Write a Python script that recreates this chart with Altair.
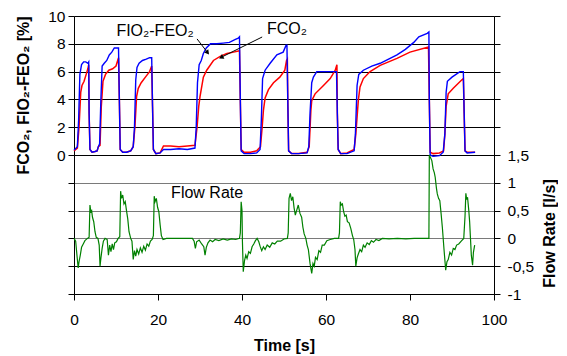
import altair as alt
import pandas as pd

FONT = "Liberation Sans"

# ---- FIO2-FEO2 (blue), time [s] and value [%]
fio2_time = [0.0, 0.8, 1.1, 1.4, 1.8, 2.3, 2.8, 3.3, 3.5, 3.6, 3.8, 4.3, 5.0, 5.5, 5.8, 6.1, 6.4, 6.7, 7.2, 7.8,
             8.4, 9.0, 9.6, 10.6, 10.8, 11.0, 11.6, 12.5, 13.5, 14.1, 14.4, 14.7, 15.0, 15.5, 16.3, 17.2, 18.0, 18.5, 18.7, 18.9,
             19.5, 20.5, 21.3, 23.0, 25.0, 27.0, 28.8, 29.1, 29.4, 29.8, 30.3, 30.8, 31.5, 32.5, 34.0, 35.5, 37.0, 38.3, 39.1, 39.4,
             39.6, 39.8, 40.5, 42.0, 43.5, 44.3, 44.6, 44.9, 45.5, 46.7, 48.3, 49.8, 50.5, 50.7, 50.9, 51.1, 51.8, 53.5, 55.5, 55.9,
             56.2, 56.6, 57.0, 57.8, 59.5, 61.0, 62.5, 62.7, 62.9, 63.5, 65.0, 66.7, 67.0, 67.4, 67.8, 68.9, 70.9, 72.9, 74.9, 76.9,
             78.9, 80.9, 82.1, 84.1, 84.5, 84.6, 84.8, 85.5, 87.0, 87.9, 88.3, 88.6, 88.9, 90.0, 91.9, 92.7, 92.9, 93.1, 93.6, 95.5]
fio2_value = [0.35, 0.6, 2.5, 5.8, 6.5, 6.7, 6.7, 6.6, 6.7, 3.0, 0.4, 0.2, 0.25, 0.3, 0.6, 0.8, 4.0, 6.4, 6.6, 6.8,
              7.2, 7.4, 7.7, 7.7, 4.0, 0.4, 0.2, 0.2, 0.3, 0.6, 2.0, 5.4, 6.3, 6.6, 6.8, 6.9, 7.0, 7.0, 3.5, 0.4,
              0.1, 0.15, 0.4, 0.4, 0.45, 0.4, 0.5, 2.0, 5.2, 6.5, 6.8, 7.3, 7.7, 8.0, 8.0, 8.05, 8.1, 8.3, 8.4, 8.5,
              4.0, 0.3, 0.1, 0.1, 0.15, 0.4, 2.5, 5.5, 6.1, 6.6, 7.2, 7.4, 7.9, 7.9, 4.0, 0.3, 0.1, 0.1, 0.15, 0.6,
              3.0, 5.2, 5.6, 6.0, 6.0, 6.0, 6.0, 3.0, 0.4, 0.1, 0.1, 0.3, 1.5, 5.0, 5.8, 6.1, 6.4, 6.6, 6.9, 7.2,
              7.6, 8.1, 8.5, 8.75, 8.85, 4.0, 0.0, -0.1, -0.05, 0.2, 1.5, 4.5, 5.3, 5.6, 6.0, 6.0, 3.0, 0.3, 0.15, 0.2]

# ---- FCO2 (red)
fco2_time = [0.0, 0.8, 1.2, 1.6, 1.9, 2.4, 2.9, 3.3, 3.5, 3.6, 3.8, 4.3, 5.0, 5.5, 5.8, 6.2, 6.5, 6.9, 7.5, 8.3,
             9.2, 10.0, 10.6, 10.8, 11.0, 11.6, 12.5, 13.5, 14.1, 14.5, 14.9, 15.3, 16.0, 17.0, 18.0, 18.5, 18.7, 18.9, 19.5, 20.5,
             21.3, 23.0, 25.0, 27.0, 28.8, 29.3, 29.7, 30.0, 30.8, 31.6, 33.2, 34.8, 36.4, 38.0, 39.4, 39.6, 39.8, 40.5, 42.0, 43.5,
             44.4, 44.8, 45.1, 45.5, 46.3, 47.5, 49.0, 50.2, 50.6, 50.8, 50.9, 51.1, 51.8, 53.5, 55.5, 56.0, 56.4, 56.6, 57.4, 59.4,
             61.0, 62.2, 62.6, 62.7, 62.9, 63.5, 65.0, 66.7, 67.1, 67.7, 68.1, 68.9, 70.5, 72.9, 76.9, 80.0, 84.4, 84.6, 84.8, 85.5,
             87.0, 88.0, 88.3, 88.6, 89.1, 90.3, 92.3, 92.7, 92.9, 93.1, 93.6, 95.5]
fco2_value = [0.3, 0.5, 2.0, 4.5, 5.0, 5.3, 5.8, 6.2, 6.5, 3.0, 0.4, 0.2, 0.25, 0.3, 0.6, 0.7, 3.5, 5.3, 5.8, 6.1,
              6.2, 6.4, 7.0, 4.0, 0.4, 0.2, 0.2, 0.3, 0.6, 2.0, 4.2, 4.8, 5.2, 5.6, 6.0, 6.4, 3.5, 0.4, 0.1, 0.15,
              0.65, 0.65, 0.6, 0.65, 0.7, 2.0, 3.5, 4.2, 5.6, 6.1, 6.8, 7.1, 7.3, 7.4, 7.5, 4.0, 0.4, 0.2, 0.2, 0.3,
              0.6, 2.0, 3.2, 4.1, 4.7, 5.2, 5.6, 6.1, 6.8, 6.9, 4.0, 0.3, 0.1, 0.1, 0.2, 0.6, 3.2, 3.9, 4.4, 5.0,
              5.5, 6.1, 6.5, 3.0, 0.4, 0.1, 0.15, 0.4, 1.5, 3.95, 4.9, 5.5, 6.0, 6.45, 6.95, 7.4, 7.77, 4.0, 0.2, 0.1,
              0.15, 0.3, 1.5, 3.5, 4.4, 4.8, 5.4, 5.5, 3.0, 0.3, 0.2, 0.2]

# ---- Flow rate (green), l/s
flow_time = [0.0, 0.4, 0.7, 1.0, 1.2, 1.5, 1.8, 2.2, 2.6, 3.2, 3.6, 3.8, 4.0, 4.2, 4.4, 4.7, 5.0, 5.3, 5.7, 6.0,
             6.2, 6.4, 6.7, 7.0, 7.4, 7.9, 8.2, 8.5, 8.8, 9.1, 9.4, 9.7, 10.1, 10.5, 10.9, 11.1, 11.3, 11.6, 11.9, 12.2,
             12.5, 12.8, 13.1, 13.5, 13.8, 14.1, 14.4, 14.7, 15.0, 15.4, 15.8, 16.2, 16.6, 17.0, 17.4, 17.8, 18.2, 18.6, 18.9, 19.1,
             19.3, 19.6, 19.9, 20.2, 20.5, 20.8, 21.2, 22.0, 24.0, 26.0, 28.2, 28.6, 28.9, 29.2, 29.8, 30.4, 30.9, 31.2, 31.5, 31.9,
             32.4, 33.0, 33.6, 34.5, 35.5, 36.5, 37.5, 38.5, 39.4, 39.6, 39.8, 40.0, 40.1, 40.3, 40.6, 40.9, 41.2, 41.6, 42.0, 42.4,
             42.8, 43.2, 43.6, 44.0, 44.3, 44.7, 45.1, 45.5, 46.0, 46.6, 47.2, 47.8, 48.4, 49.2, 50.0, 50.8, 51.0, 51.2, 51.5, 51.8,
             52.1, 52.4, 52.7, 53.0, 53.4, 53.8, 54.2, 54.5, 54.8, 55.2, 55.5, 55.8, 56.2, 56.6, 56.9, 57.2, 57.5, 57.9, 58.3, 58.7,
             59.1, 59.6, 60.2, 61.0, 62.0, 63.0, 63.2, 63.4, 63.6, 63.9, 64.2, 64.5, 64.8, 65.1, 65.5, 65.9, 66.3, 66.6, 66.9, 67.1,
             67.4, 67.7, 68.1, 68.5, 68.9, 69.3, 69.8, 70.3, 70.8, 71.3, 71.9, 72.6, 73.4, 75.0, 77.0, 79.0, 81.0, 83.0, 84.5, 84.6,
             84.9, 85.2, 85.5, 85.8, 86.0, 86.3, 86.5, 86.8, 87.1, 87.4, 87.7, 88.1, 88.5, 88.8, 89.1, 89.5, 89.9, 90.3, 90.7, 91.1,
             91.6, 92.2, 92.8, 93.1, 93.3, 93.5, 93.7, 94.0, 94.2, 94.4, 94.6, 94.9, 95.1, 95.4]
flow_value = [0.0, -0.05, -0.3, -0.53, -0.42, -0.3, -0.16, -0.1, -0.04, 0.0, 0.02, 0.6, 0.48, 0.5, 0.38, 0.3, 0.12, 0.02, 0.0, -0.12,
              -0.5, -0.36, -0.18, -0.05, 0.0, -0.02, -0.3, -0.12, -0.24, -0.1, -0.2, -0.08, -0.06, 0.0, 0.03, 0.85, 0.72, 0.78, 0.62, 0.66,
              0.5, 0.35, 0.12, 0.0, -0.05, -0.38, -0.22, -0.32, -0.2, -0.28, -0.17, -0.25, -0.14, -0.21, -0.1, -0.14, -0.05, -0.02, 0.05, 0.76,
              0.66, 0.72, 0.56, 0.48, 0.25, 0.05, -0.02, 0.0, 0.0, 0.0, 0.0, -0.05, -0.18, -0.06, -0.03, -0.1, -0.15, -0.3, -0.16, -0.08,
              -0.03, -0.06, -0.02, -0.04, -0.01, -0.03, -0.01, -0.02, 0.0, 0.1, 0.66, 0.5, -0.05, -0.6, -0.4, -0.3, -0.36, -0.24, -0.27, -0.15,
              -0.1, -0.04, 0.0, -0.06, -0.14, -0.22, -0.15, -0.2, -0.12, -0.16, -0.08, -0.1, -0.05, -0.05, -0.01, 0.0, 0.1, 0.72, 0.81, 0.68,
              0.75, 0.55, 0.42, 0.5, 0.6, 0.45, 0.38, 0.2, 0.08, 0.0, -0.12, -0.2, -0.45, -0.63, -0.45, -0.5, -0.34, -0.38, -0.22, -0.25,
              -0.12, -0.12, -0.04, -0.02, 0.0, 0.0, 0.1, 0.66, 0.6, 0.62, 0.48, 0.4, 0.42, 0.3, 0.28, 0.18, 0.05, -0.02, -0.2, -0.5,
              -0.35, -0.28, -0.2, -0.24, -0.12, -0.16, -0.08, -0.11, -0.04, -0.07, -0.02, -0.04, 0.0, -0.01, 0.0, -0.01, 0.0, 0.0, 0.0, 1.5,
              1.45, 1.4, 1.25, 1.18, 1.1, 0.9, 0.8, 0.72, 0.68, 0.45, 0.2, -0.2, -0.57, -0.42, -0.38, -0.25, -0.3, -0.18, -0.2, -0.12,
              -0.1, -0.05, 0.0, 0.4, 0.81, 0.7, 0.74, 0.5, 0.3, 0.0, -0.3, -0.48, -0.25, -0.12]

# ---- annotations (data coordinates)
gas_label_text = ["FIO\u2082-FEO\u2082", "FCO\u2082"]
gas_label_time = [19.3, 50.7]
gas_label_value = [8.92, 9.06]
arrow_time_start = [29.3, 44.8]
arrow_value_start = [8.35, 8.49]
arrow_time_end = [31.7, 35.2]
arrow_value_end = [7.41, 7.05]
arrow_angle = [142, 243]
flow_label_text = ["Flow Rate"]
flow_label_time = [31.7]
flow_label_value = [0.82]

x_ticks = [0, 20, 40, 60, 80, 100]
left_ticks = list(range(-10, 11, 2))
right_ticks = [-1, -0.5, 0, 0.5, 1, 1.5, 2, 2.5, 3, 3.5, 4]

fio2_df = pd.DataFrame({"t": fio2_time, "v": fio2_value})
fco2_df = pd.DataFrame({"t": fco2_time, "v": fco2_value})
flow_df = pd.DataFrame({"t": flow_time, "f": flow_value})
lab_df = pd.DataFrame({"t": gas_label_time, "v": gas_label_value, "txt": gas_label_text})
arr_df = pd.DataFrame({"ts": arrow_time_start, "vs": arrow_value_start,
                       "te": arrow_time_end, "ve": arrow_value_end, "ang": arrow_angle})
flab_df = pd.DataFrame({"t": flow_label_time, "f": flow_label_value, "txt": flow_label_text})

x_scale = alt.Scale(domain=[0, 100], nice=False, zero=False)
x_axis = alt.Axis(values=x_ticks, title="Time [s]", grid=False, labelFlush=False,
                  labelFont=FONT, labelFontSize=15.5, labelColor="black", labelPadding=12,
                  tickSize=6, tickColor="black", domainColor="black",
                  titleFont=FONT, titleFontSize=16, titleFontWeight="bold", titleColor="black",
                  titleY=51, titleBaseline="middle")
left_scale = alt.Scale(domain=[-10, 10], nice=False, zero=False)
left_axis = alt.Axis(values=left_ticks, labelExpr="datum.value >= 0 ? datum.label : ''",
                     labelFont=FONT, labelFontSize=15.5, labelColor="black", labelPadding=3,
                     labelOverlap=False,
                     tickSize=6, tickColor="black", domainColor="black",
                     grid=True, gridWidth=1,
                     gridColor={"condition": {"test": "datum.value > -7 && datum.value < -1", "value": "#7a7a7a"},
                                "value": "black"},
                     title="FCO\u2082, FIO\u2082-FEO\u2082 [%]", titleFont=FONT, titleFontSize=16,
                     titleFontWeight="bold", titleColor="black", titleAngle=270,
                     titleX=-51, titleY=79, titleAlign="center", titleBaseline="middle")
right_scale = alt.Scale(domain=[-1, 4], nice=False, zero=False)
right_axis = alt.Axis(orient="right", values=right_ticks,
                      labelExpr="datum.value <= 1.5 ? replace(toString(datum.value), '.', ',') : ''",
                      labelFont=FONT, labelFontSize=15.5, labelColor="black", labelPadding=7,
                      labelOverlap=False, grid=False,
                      tickSize=6, tickColor="black", domainColor="black",
                      title="Flow Rate [l/s]", titleFont=FONT, titleFontSize=16,
                      titleFontWeight="bold", titleColor="black", titleAngle=270,
                      titleX=55, titleY=217, titleAlign="center", titleBaseline="middle")

X = alt.X("t:Q", scale=x_scale, axis=x_axis)
Y = alt.Y("v:Q", scale=left_scale, axis=left_axis)

red = alt.Chart(fco2_df).mark_line(color="#ff0000", strokeWidth=1.5).encode(x=X, y=Y)
blue = alt.Chart(fio2_df).mark_line(color="#0000ff", strokeWidth=1.4).encode(x=X, y=Y)
labels = alt.Chart(lab_df).mark_text(font=FONT, fontSize=16, color="black", align="center",
                                     baseline="middle").encode(x=X, y=Y, text="txt:N")
arrows = alt.Chart(arr_df).mark_rule(color="black", strokeWidth=1).encode(
    x=alt.X("ts:Q", scale=x_scale, axis=x_axis),
    y=alt.Y("vs:Q", scale=left_scale, axis=left_axis),
    x2="te:Q", y2="ve:Q")
heads = alt.Chart(arr_df).mark_point(shape="triangle", filled=True, size=28, color="black", opacity=1).encode(
    x=alt.X("te:Q", scale=x_scale, axis=x_axis),
    y=alt.Y("ve:Q", scale=left_scale, axis=left_axis),
    angle=alt.Angle("ang:Q", scale=None))

gas = alt.layer(red, blue, arrows, heads, labels)

flow_line = alt.Chart(flow_df).mark_line(color="#008000", strokeWidth=1.2).encode(
    x=X, y=alt.Y("f:Q", scale=right_scale, axis=right_axis))
flow_lab = alt.Chart(flab_df).mark_text(font=FONT, fontSize=16, color="black", align="center",
                                        baseline="middle").encode(
    x=X, y=alt.Y("f:Q", scale=right_scale, axis=right_axis), text="txt:N")
flow = alt.layer(flow_line, flow_lab)

chart = alt.layer(gas, flow).resolve_scale(y="independent").properties(
    width=420, height=278,
    autosize=alt.AutoSizeParams(type="none"),
    padding={"left": 66, "top": 8, "right": 64, "bottom": 62},
    background="white",
).configure_view(strokeWidth=0).configure(font=FONT)

chart.save("out.html", embed_options={"renderer": "svg", "actions": False})
